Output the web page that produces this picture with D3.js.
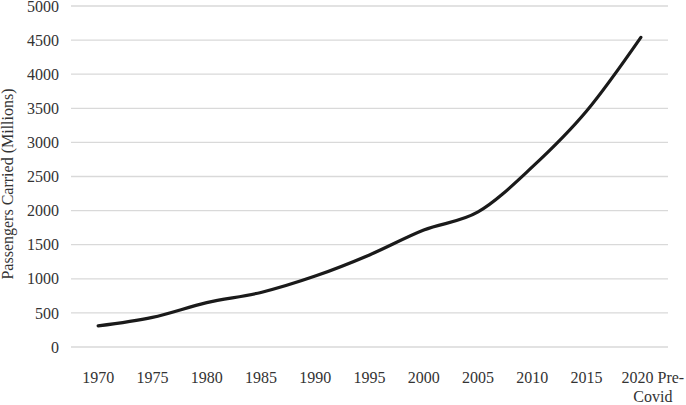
<!DOCTYPE html>
<html><head><meta charset="utf-8">
<script src="https://cdn.jsdelivr.net/npm/d3@7"></script>
<style>body{margin:0;background:#fff}svg{display:block}text{font-family:"Liberation Serif","Times New Roman",serif;fill:#333}</style>
</head><body><svg id="c" width="686" height="405"></svg>
<script>
const categories = ["1970","1975","1980","1985","1990","1995","2000","2005","2010","2015","2020 Pre-Covid"];
const passengers = [310, 435, 650, 800, 1040, 1350, 1715, 1980, 2640, 3460, 4540];
const yTicks = [0,500,1000,1500,2000,2500,3000,3500,4000,4500,5000];

const svg = d3.select("#c");
const m = {l:71, r:686-668, t:6, b:405-347};
const W = 686, H = 405;
const x = d3.scaleBand().domain(categories).range([m.l, W-m.r]);
const y = d3.scaleLinear().domain([0,5000]).range([H-m.b, m.t]);

svg.append("g").selectAll("line").data(yTicks).join("line")
  .attr("x1", m.l).attr("x2", W-m.r)
  .attr("y1", d=>y(d)).attr("y2", d=>y(d))
  .attr("stroke","#d9d9d9").attr("stroke-width",1.3);

svg.append("g").selectAll("text").data(yTicks).join("text")
  .attr("x", 59).attr("y", d=>y(d)).attr("dy","0.35em")
  .attr("text-anchor","end").attr("font-size",16).text(d=>d);

const xl = svg.append("g").selectAll("text").data(categories).join("text")
  .attr("x", (d,i)=> x(d)+x.bandwidth()/2 + (i===categories.length-1?12:0))
  .attr("y", 383).attr("text-anchor","middle").attr("font-size",16);
xl.each(function(d){
  const t = d3.select(this);
  if (d.indexOf(" ")>0){
    const parts = d.split("-");
    t.append("tspan").attr("x", t.attr("x")).text(parts[0]+"-");
    t.append("tspan").attr("x", t.attr("x")).attr("dy","1.2em").text(parts[1]);
  } else t.text(d);
});

svg.append("text").attr("transform","translate(13,184) rotate(-90)")
  .attr("text-anchor","middle").attr("font-size",16).text("Passengers Carried (Millions)");

const line = d3.line().x((d,i)=>x(categories[i])+x.bandwidth()/2).y(d=>y(d))
  .curve(d3.curveCatmullRom.alpha(0));
svg.append("path").datum(passengers).attr("d", line)
  .attr("fill","none").attr("stroke","#1a1a1a").attr("stroke-width",3.2).attr("stroke-linecap","round");
</script></body></html>
